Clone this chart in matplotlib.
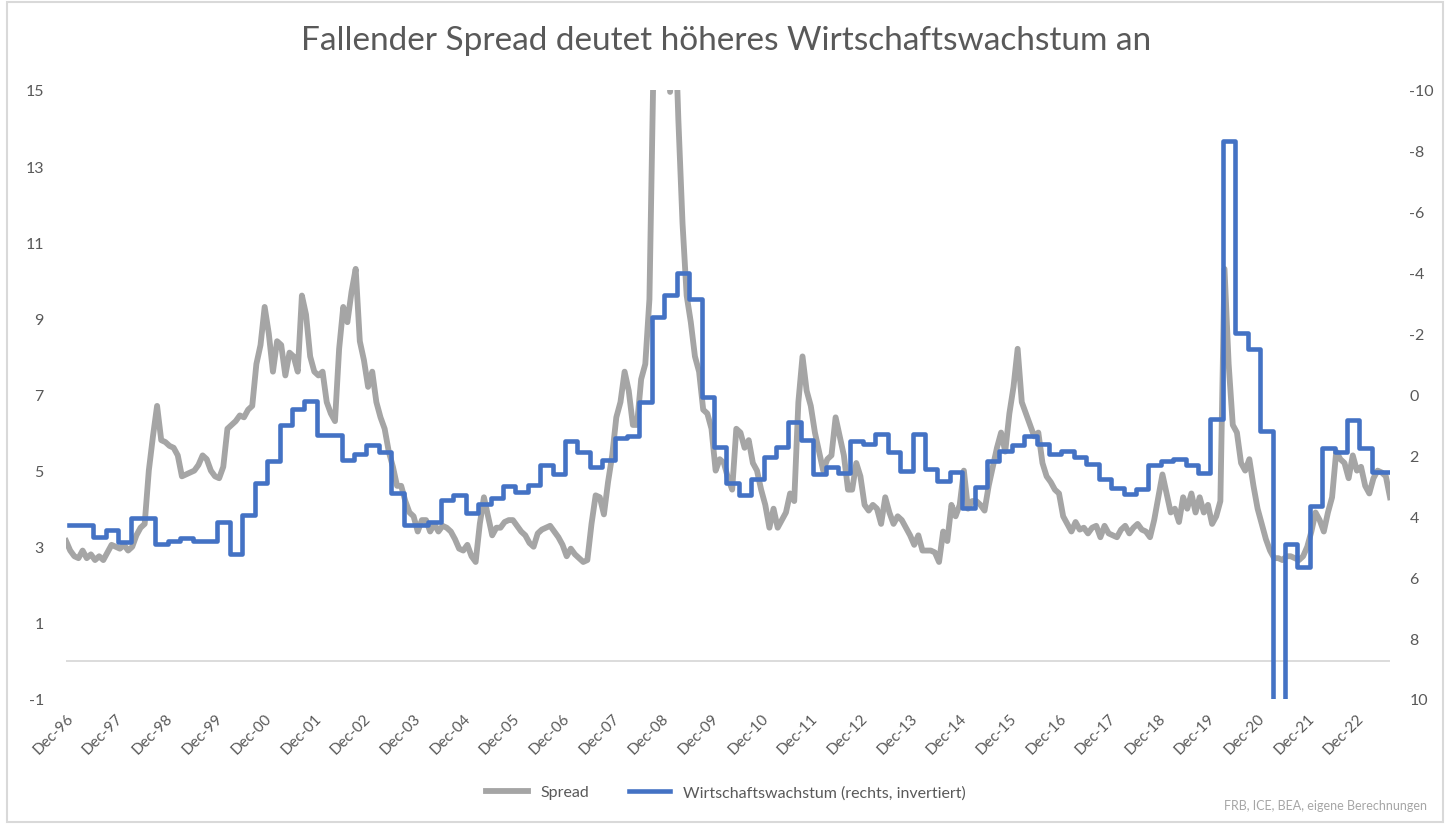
import numpy as np
import matplotlib
matplotlib.use("Agg")
import matplotlib.pyplot as plt
from matplotlib.patches import Rectangle

plt.rcParams['font.family'] = ['Lato', 'DejaVu Sans']
plt.rcParams['axes.unicode_minus'] = False

# High-yield spread, month-end values from Dec 1996 (left axis, %)
spread = [
    3.15, 2.9, 2.75, 2.7, 2.9, 2.7, 2.8, 2.65, 2.75, 2.65, 2.85, 3.05,   # Dec96-Nov97
    3.0, 2.95, 3.05, 2.9, 3.0, 3.3, 3.5, 3.6, 5.0, 5.9, 6.7, 5.8,        # Dec97-
    5.75, 5.65, 5.6, 5.4, 4.85, 4.9, 4.95, 5.0, 5.15, 5.4, 5.3, 5.0,     # Dec98-
    4.85, 4.8, 5.1, 6.1, 6.2, 6.3, 6.45, 6.4, 6.6, 6.7, 7.8, 8.3,        # Dec99-
    9.3, 8.6, 7.6, 8.4, 8.3, 7.5, 8.1, 8.0, 7.6, 9.6, 9.1, 8.0,          # Dec00-
    7.6, 7.5, 7.6, 6.8, 6.5, 6.3, 8.2, 9.3, 8.9, 9.7, 10.3, 8.4,         # Dec01-
    7.9, 7.2, 7.6, 6.8, 6.4, 6.1, 5.5, 5.1, 4.6, 4.6, 4.2, 3.9,          # Dec02-
    3.8, 3.4, 3.7, 3.7, 3.4, 3.6, 3.4, 3.55, 3.5, 3.4, 3.2, 2.95,        # Dec03-
    2.9, 3.05, 2.75, 2.6, 3.6, 4.3, 3.8, 3.3, 3.5, 3.5, 3.65, 3.7,       # Dec04-
    3.7, 3.55, 3.4, 3.3, 3.1, 3.0, 3.35, 3.45, 3.5, 3.55, 3.4, 3.25,     # Dec05-
    3.05, 2.75, 2.95, 2.8, 2.7, 2.6, 2.65, 3.6, 4.35, 4.3, 3.85, 4.7,    # Dec06-
    5.4, 6.4, 6.8, 7.6, 7.1, 6.2, 6.2, 7.4, 7.8, 9.5, 15.8, 18.5,        # Dec07-
    19.5, 17.0, 14.95, 17.5, 14.2, 11.5, 9.6, 8.9, 8.0, 7.6, 6.6, 6.5,   # Dec08-
    6.1, 5.0, 5.3, 5.2, 4.8, 4.5, 6.1, 6.0, 5.6, 5.8, 5.2, 5.0,          # Dec09-
    4.5, 4.1, 3.5, 4.0, 3.5, 3.7, 3.9, 4.4, 4.2, 6.8, 8.0, 7.1,          # Dec10-
    6.7, 6.0, 5.5, 5.0, 5.3, 5.4, 6.4, 5.9, 5.4, 4.5, 4.5, 5.2,          # Dec11-
    4.85, 4.1, 3.95, 4.1, 4.0, 3.6, 4.3, 3.9, 3.6, 3.8, 3.7, 3.5,        # Dec12-
    3.3, 3.05, 3.3, 2.9, 2.9, 2.9, 2.85, 2.6, 3.4, 3.15, 4.1, 3.8,       # Dec13-
    4.1, 5.0, 4.0, 4.2, 4.2, 4.1, 3.95, 4.6, 5.1, 5.6, 6.0, 5.5,         # Dec14-
    6.5, 7.2, 8.2, 6.8, 6.5, 6.2, 5.9, 6.0, 5.2, 4.85, 4.7, 4.5,         # Dec15-
    4.4, 3.8, 3.6, 3.4, 3.65, 3.45, 3.5, 3.35, 3.5, 3.55, 3.25, 3.55,    # Dec16-
    3.35, 3.3, 3.25, 3.45, 3.55, 3.35, 3.5, 3.6, 3.45, 3.4, 3.25, 3.7,   # Dec17-
    4.3, 4.9, 4.4, 3.9, 4.0, 3.65, 4.3, 4.0, 4.4, 3.9, 4.3, 3.9,         # Dec18-
    4.1, 3.6, 3.8, 4.2, 10.3, 7.8, 6.2, 6.0, 5.2, 5.0, 5.3, 4.6,         # Dec19-
    4.0, 3.6, 3.2, 2.9, 2.7, 2.7, 2.65, 2.75, 2.75, 2.7, 2.65, 2.75,     # Dec20-
    3.0, 3.4, 3.9, 3.7, 3.4, 3.9, 4.3, 5.5, 5.3, 5.2, 4.8, 5.4,          # Dec21-
    5.0, 5.1, 4.6, 4.4, 4.8, 5.0, 4.95, 4.85, 4.3,                       # Dec22-
]

# Real GDP growth y/y, quarterly from Dec 1996 (right axis, inverted)
gdp = [
    4.3, 4.3, 4.68, 4.45, 4.85, 4.07, 4.07, 4.9, 4.8, 4.7, 4.8, 4.8,
    4.2, 5.25, 3.95, 2.9, 2.17, 1.0, 0.47, 0.2, 1.33, 1.33, 2.15, 1.97,
    1.66, 1.9, 3.23, 4.28, 4.3, 4.18, 3.47, 3.3, 3.88, 3.58, 3.4, 3.0,
    3.2, 2.97, 2.3, 2.6, 1.53, 1.88, 2.37, 2.14, 1.43, 1.36, 0.25, -2.55,
    -3.28, -3.99, -3.13, 0.07, 1.74, 2.9, 3.3, 2.77, 2.04, 1.72, 0.9, 1.5,
    2.6, 2.37, 2.58, 1.54, 1.61, 1.3, 1.9, 2.5, 1.3, 2.44, 2.84, 2.53,
    3.73, 3.04, 2.17, 1.86, 1.66, 1.36, 1.63, 1.97, 1.84, 2.04, 2.27, 2.77,
    3.07, 3.27, 3.12, 2.3, 2.17, 2.12, 2.3, 2.58, 0.79, -8.31, -2.02, -1.51,
    1.19, 12.2, 4.92, 5.68, 3.65, 1.77, 1.88, 0.83, 1.77, 2.53,
]

years = ["96", "97", "98", "99", "00", "01", "02", "03", "04", "05", "06", "07", "08",
         "09", "10", "11", "12", "13", "14", "15", "16", "17", "18", "19", "20", "21", "22"]
xlabels = ["Dec-" + y for y in years]

txt = "#595959"
fig = plt.figure(figsize=(14.52, 8.28), dpi=100)
fig.add_artist(Rectangle((0.005, 0.006), 0.989, 0.99, transform=fig.transFigure,
                         fill=False, edgecolor="#D9D9D9", linewidth=1.5))

ax = fig.add_axes([0.0455, 0.1546, 0.9118, 0.7355])
ax2 = ax.twinx()

xm = np.arange(len(spread))
ax.plot(xm, spread, color="#A5A5A5", lw=4.2, solid_joinstyle="round", label="Spread")
ax.axhline(0, color="#D9D9D9", lw=1.3, zorder=0)

xq = np.arange(len(gdp)) * 3 + 0.6
xq = np.append(xq, len(spread) - 1)
gq = np.append(gdp, gdp[-1])
ax2.step(xq, gq, where="post", color="#4472C4", lw=3.3,
         label="Wirtschaftswachstum (rechts, invertiert)")

ax.set_xlim(0, len(spread) - 1)
ax.set_ylim(-1, 15)
ax.set_yticks(np.arange(-1, 16, 2))
ax.set_yticklabels([str(v) for v in range(-1, 16, 2)])
ax2.set_ylim(10, -10)
ax2.set_yticks(np.arange(-10, 11, 2))
ax2.set_yticklabels([str(v) for v in range(-10, 11, 2)])

ax.set_xticks(np.arange(0, len(years) * 12, 12))
ax.set_xticklabels(xlabels, rotation=45, ha="right", rotation_mode="anchor")

for a in (ax, ax2):
    for s in a.spines.values():
        s.set_visible(False)
ax.tick_params(axis="x", length=0, pad=8, labelsize=11, labelcolor=txt)
ax.tick_params(axis="y", length=0, pad=16, labelsize=11.5, labelcolor=txt)
ax2.tick_params(axis="y", length=0, pad=14, labelsize=11.5, labelcolor=txt)
for lbl in ax.get_yticklabels():
    lbl.set_horizontalalignment("right")

fig.suptitle("Fallender Spread deutet höheres Wirtschaftswachstum an",
             x=0.5, y=0.968, fontsize=24, color=txt)

h1, l1 = ax.get_legend_handles_labels()
h2, l2 = ax2.get_legend_handles_labels()
fig.legend(h1 + h2, l1 + l2, loc="center", bbox_to_anchor=(0.5, 0.042), ncol=2,
           frameon=False, fontsize=11.5, labelcolor=txt, handlelength=2.6,
           columnspacing=2.5)

fig.text(0.983, 0.026, "FRB, ICE, BEA, eigene Berechnungen", ha="right", va="center",
         fontsize=9, color="#A6A6A6")

fig.savefig("out.png", dpi=100)
